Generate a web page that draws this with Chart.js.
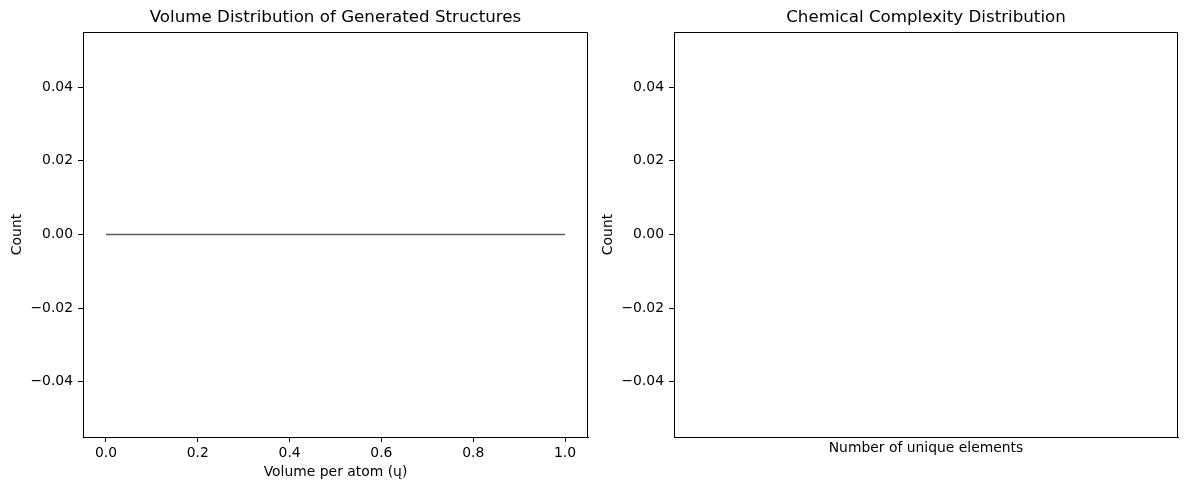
<!DOCTYPE html>
<html>
<head>
<meta charset="utf-8">
<script src="https://cdn.jsdelivr.net/npm/chart.js@4.4.1/dist/chart.umd.min.js"></script>
<style>
  html, body { margin: 0; padding: 0; background: #fff; }
  #wrap { position: relative; width: 1189px; height: 490px; }
  .box { position: absolute; top: 0; height: 490px; }
  #b1 { left: 0; width: 594px; }
  #b2 { left: 594px; width: 595px; }
</style>
</head>
<body>
<div id="wrap">
  <div class="box" id="b1"><canvas id="c1"></canvas></div>
  <div class="box" id="b2"><canvas id="c2"></canvas></div>
</div>
<script>
// ---- data ----
const volumeBinEdges = [0.0, 0.1, 0.2, 0.3, 0.4, 0.5, 0.6, 0.7, 0.8, 0.9, 1.0];
const volumeCounts   = [0, 0, 0, 0, 0, 0, 0, 0, 0, 0, 0];
const volumeXTicks   = [0.0, 0.2, 0.4, 0.6, 0.8, 1.0];
const countYTicks    = [-0.04, -0.02, 0.00, 0.02, 0.04];
const complexityCounts = [];
const titleLeft  = "Volume Distribution of Generated Structures";
const titleRight = "Chemical Complexity Distribution";
const xLabelLeft  = "Volume per atom (ų)";
const xLabelRight = "Number of unique elements";
const yLabel = "Count";

// ---- styling ----
const FONT = "'DejaVu Sans', sans-serif";
const tickFont = { family: FONT, size: 13.9 };
const fmtY = v => v.toFixed(2).replace('-', '\u2212');
const fmtX = v => v.toFixed(1).replace('-', '\u2212');

const frame = {
  id: 'frame',
  afterDraw(chart, args, opts) {
    const { ctx, chartArea: a } = chart;
    ctx.save();
    ctx.strokeStyle = '#000';
    ctx.lineWidth = 1;
    ctx.beginPath();
    const l = Math.round(a.left) + 0.5, r = Math.round(a.right) - 0.5, t = Math.round(a.top) + 0.5;
    ctx.moveTo(l, t); ctx.lineTo(r, t); ctx.lineTo(r, Math.round(a.bottom));
    ctx.stroke();
    ctx.fillStyle = '#000';
    ctx.font = `16.7px ${FONT}`;
    ctx.textAlign = 'center';
    ctx.textBaseline = 'middle';
    ctx.fillText(opts.text, (a.left + a.right) / 2, 18);
    ctx.restore();
  }
};

function yScale(width, titlePad) {
  return {
    type: 'linear',
    min: -0.055, max: 0.055,
    afterBuildTicks: s => { s.ticks = countYTicks.map(v => ({ value: v })); },
    afterFit: s => { s.width = width; },
    ticks: { font: tickFont, color: '#000', padding: 5, callback: v => fmtY(v) },
    grid: { drawOnChartArea: false, tickLength: 5, color: '#000', tickColor: '#000' },
    border: { display: true, color: '#000' },
    title: { display: true, text: yLabel, font: tickFont, color: '#000', padding: { top: titlePad, bottom: 0 } }
  };
}

new Chart(document.getElementById('c1'), {
  type: 'line',
  data: {
    datasets: [{
      data: volumeBinEdges.map((x, i) => ({ x: x, y: volumeCounts[i] })),
      borderColor: 'rgba(64,64,64,0.85)',
      borderWidth: 1.3,
      pointRadius: 0,
      tension: 0
    }]
  },
  options: {
    responsive: true, maintainAspectRatio: false, animation: false,
    layout: { padding: { left: 0, right: 6, top: 32, bottom: 0 } },
    plugins: { legend: { display: false }, tooltip: { enabled: false }, frame: { text: titleLeft } },
    scales: {
      x: {
        type: 'linear',
        min: -0.05, max: 1.05,
        afterBuildTicks: s => { s.ticks = volumeXTicks.map(v => ({ value: v })); },
        afterFit: s => { s.height = 53; },
        ticks: { font: tickFont, color: '#000', padding: 3, maxRotation: 0, callback: v => fmtX(v) },
        grid: { drawOnChartArea: false, tickLength: 5, color: '#000', tickColor: '#000' },
        border: { display: true, color: '#000' },
        title: { display: true, text: xLabelLeft, font: tickFont, color: '#000', padding: { top: 0, bottom: 9 } }
      },
      y: yScale(83, 9)
    }
  },
  plugins: [frame]
});

new Chart(document.getElementById('c2'), {
  type: 'line',
  data: {
    datasets: [{
      data: complexityCounts,
      borderColor: 'rgba(64,64,64,0.85)',
      pointRadius: 0
    }]
  },
  options: {
    responsive: true, maintainAspectRatio: false, animation: false,
    layout: { padding: { left: 0, right: 11, top: 32, bottom: 28 } },
    plugins: { legend: { display: false }, tooltip: { enabled: false }, frame: { text: titleRight } },
    scales: {
      x: {
        type: 'linear',
        min: 0, max: 1,
        afterFit: s => { s.height = 25; },
        ticks: { display: false },
        grid: { display: false, drawOnChartArea: false, drawTicks: false },
        border: { display: true, color: '#000' },
        title: { display: true, text: xLabelRight, font: tickFont, color: '#000', padding: { top: 0, bottom: 5 } }
      },
      y: yScale(80, 6)
    }
  },
  plugins: [frame]
});
</script>
</body>
</html>
